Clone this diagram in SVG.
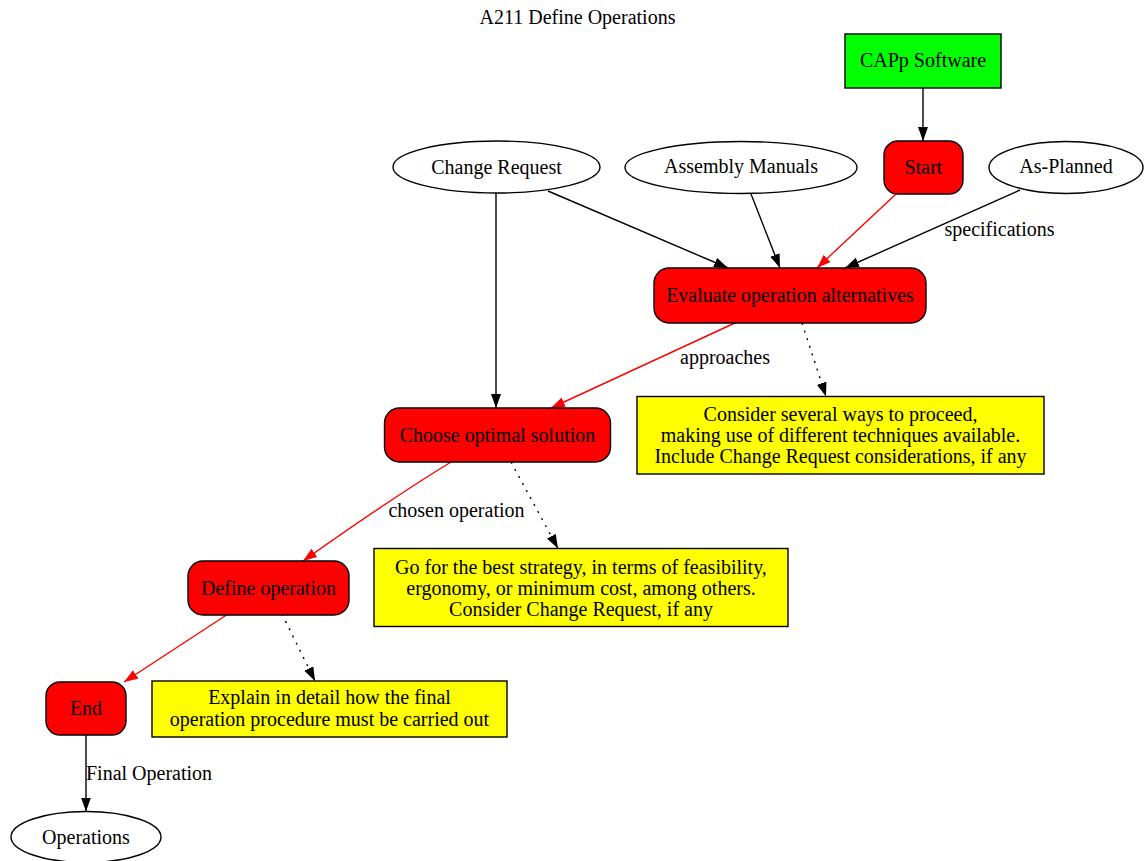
<svg xmlns="http://www.w3.org/2000/svg" width="1144" height="861" viewBox="0 0 1144 861">
<style>
text{font-family:"Liberation Serif","Times New Roman",serif;font-size:20px;fill:#000;text-anchor:middle}
.n{stroke:#000;stroke-width:1.4}
.ell{fill:#fff}
.red{fill:#ff0000}
.grn{fill:#00ff00}
.yel{fill:#ffff00}
.e{fill:none;stroke-width:1.4}
.k{stroke:#000;marker-end:url(#ak)}
.r{stroke:#ff0000;marker-end:url(#ar)}
.d{stroke:#000;stroke-dasharray:2,6;marker-end:url(#ak)}
</style>
<defs>
<marker id="ak" markerUnits="userSpaceOnUse" markerWidth="15" markerHeight="11" refX="14" refY="5" orient="auto" viewBox="0 0 15 11"><path d="M0,0 L14,5 L0,10 z" fill="#000"/></marker>
<marker id="ar" markerUnits="userSpaceOnUse" markerWidth="15" markerHeight="11" refX="14" refY="5" orient="auto" viewBox="0 0 15 11"><path d="M0,0 L14,5 L0,10 z" fill="#ff0000"/></marker>
</defs>
<rect width="1144" height="861" fill="#fff"/>
<text id="title" x="577.5" y="24">A211 Define Operations</text>
<g id="connectors">
<path class="e k" d="M923,88 L923,141"/>
<path class="e k" d="M496,193 L496,408"/>
<path class="e k" d="M548,191 L728,268"/>
<path class="e k" d="M751,194 L780,268"/>
<path class="e r" d="M896,194 L817,268"/>
<path class="e k" d="M1020,190 L845,268"/>
<text x="999.5" y="236">specifications</text>
<path class="e r" d="M737,322 L551,408"/>
<text x="725" y="364">approaches</text>
<path class="e d" d="M802,323 L826,396.5"/>
<path class="e r" d="M451,462 C420,481 372,512 303,561"/>
<text x="456.5" y="517">chosen operation</text>
<path class="e d" d="M511,462 L558,548.5"/>
<path class="e r" d="M228,614 L124,682"/>
<path class="e d" d="M282,614 L315,681"/>
<path class="e k" d="M86,735 L86,811.5"/>
<text x="149" y="780">Final Operation</text>
</g>
<g id="capp"><rect class="n grn" x="845" y="34" width="156" height="54"/><text x="923" y="67">CAPp Software</text></g>
<g id="start"><rect class="n red" x="884" y="141" width="79" height="53" rx="14"/><text x="923.5" y="173.5">Start</text></g>
<g id="change_request"><ellipse class="n ell" cx="496.5" cy="167" rx="103.5" ry="26"/><text x="496.5" y="173.5">Change Request</text></g>
<g id="assembly_manuals"><ellipse class="n ell" cx="741" cy="167.5" rx="116" ry="26"/><text x="741" y="173">Assembly Manuals</text></g>
<g id="as_planned"><ellipse class="n ell" cx="1066" cy="167.5" rx="77" ry="26"/><text x="1066" y="173">As-Planned</text></g>
<g id="evaluate"><rect class="n red" x="654" y="268" width="272" height="55" rx="15"/><text x="790" y="302">Evaluate operation alternatives</text></g>
<g id="consider"><rect class="n yel" x="637" y="396.5" width="407" height="77.5"/><text x="840.5" y="420.5">Consider several ways to proceed,</text><text x="840.5" y="441.5">making use of different techniques available.</text><text x="840.5" y="462.5">Include Change Request considerations, if any</text></g>
<g id="choose"><rect class="n red" x="384.5" y="408" width="226" height="54" rx="15"/><text x="497.5" y="441.5">Choose optimal solution</text></g>
<g id="goforbest"><rect class="n yel" x="374" y="548.5" width="414" height="78"/><text x="581" y="573.5">Go for the best strategy, in terms of feasibility,</text><text x="581" y="594.5">ergonomy, or minimum cost, among others.</text><text x="581" y="615.5">Consider Change Request, if any</text></g>
<g id="define"><rect class="n red" x="188" y="561" width="161" height="54" rx="15"/><text x="268.5" y="594.5">Define operation</text></g>
<g id="end"><rect class="n red" x="46" y="682" width="80" height="53" rx="14"/><text x="86" y="715">End</text></g>
<g id="explain"><rect class="n yel" x="152" y="681" width="355" height="56"/><text x="329.5" y="704">Explain in detail how the final</text><text x="329.5" y="725.5">operation procedure must be carried out</text></g>
<g id="operations"><ellipse class="n ell" cx="86" cy="837" rx="75" ry="25.5"/><text x="86" y="844">Operations</text></g>
</svg>
